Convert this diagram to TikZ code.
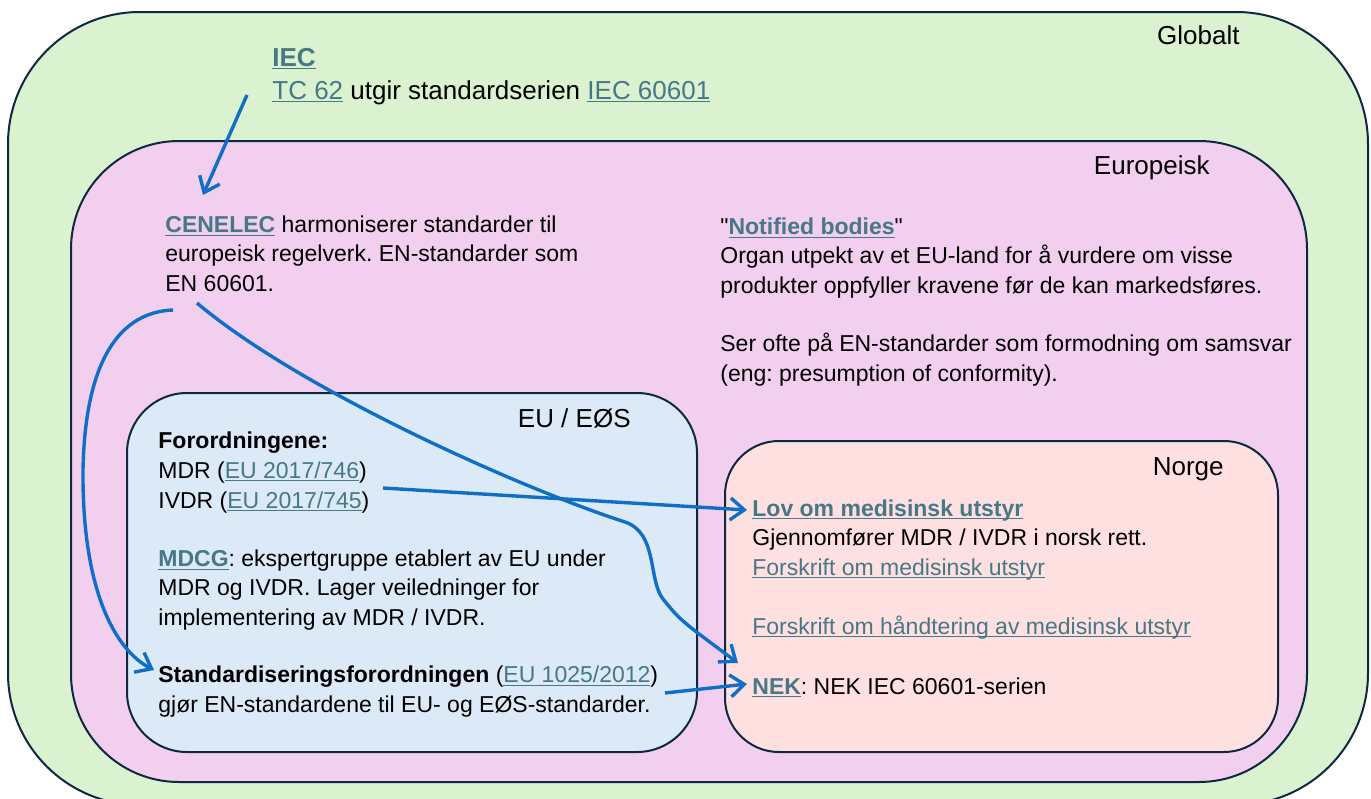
\documentclass[tikz,border=0pt]{standalone}
\usepackage{fontspec}
\setmainfont{Liberation Sans}
\frenchspacing
\usetikzlibrary{calc, arrows.meta}
\definecolor{globalgreen}{HTML}{DAF2D0}
\definecolor{europink}{HTML}{F2CFEE}
\definecolor{eublue}{HTML}{DCE9F6}
\definecolor{norgerose}{HTML}{FFE0E0}
\definecolor{framenavy}{HTML}{0E2841}
\definecolor{arrowblue}{HTML}{0F6FC6}
\definecolor{linkteal}{HTML}{467886}
\newcommand{\undl}[1]{\setbox0\hbox{#1}\rlap{\rule[-1.6pt]{\wd0}{0.55pt}}\box0}
\newcommand{\lnk}[1]{{\color{linkteal}\undl{#1}}}
\newcommand{\blnk}[1]{{\color{linkteal}\undl{\textbf{#1}}}}
\newcommand{\dq}{\XeTeXglyph\XeTeXcharglyph"22\relax}
\tikzset{
	region/.style={draw=framenavy, line width=1pt, rounded corners=#1},
	body/.style={inner sep=0pt, anchor=base west, align=left,
		font=\fontsize{11.5}{14.65}\selectfont},
	bigbody/.style={inner sep=0pt, anchor=base west,
		font=\fontsize{13}{16}\selectfont},
	title/.style={inner sep=0pt, anchor=base east,
		font=\fontsize{13}{16}\selectfont},
	link/.style={draw=arrowblue, line width=1.7pt,
		-{Straight Barb[length=7pt,width=11pt]}}
}

\begin{document}
\begin{tikzpicture}[x=0.5pt, y=-0.5pt]
\useasboundingbox (0,0) rectangle (1371,798);
\clip (0,0) rectangle (1371,798);
% regions
\draw[region=66pt, fill=globalgreen] (8,12) rectangle (1368,805);
\draw[region=54pt, fill=europink] (71,141) rectangle (1307,782);
\draw[region=30pt, fill=eublue] (127,393) rectangle (697,752);
\draw[region=27pt, fill=norgerose] (725,441) rectangle (1278,752);
% region titles
\node[title] (globalt) at (1240,44) {Globalt};
\node[title] (europeisk) at (1210,174) {Europeisk};
\node[title] (eueos) at (631,427) {EU / EØS};
\node[title] (norge) at (1224,475) {Norge};
% global (multi-line nodes sit on their last baseline)
\node[bigbody] (iec) at (272,66) {\blnk{IEC}};
\node[bigbody] (tc) at (272,99) {\lnk{TC 62} utgir standardserien \lnk{IEC 60601}};
% europe
\node[body] (cen) at (165,291) {\blnk{CENELEC} harmoniserer standarder til\\europeisk regelverk. EN-standarder som\\EN 60601.};
\node[body] (nb) at (720,293) {\dq\blnk{Notified bodies}\dq\\Organ utpekt av et EU-land for å vurdere om visse\\produkter oppfyller kravene før de kan markedsføres.};
\node[body] (nbsamsvar) at (720,381) {Ser ofte på EN-standarder som formodning om samsvar\\(eng: presumption of conformity).};
% EU / EOS
\node[body] (forord) at (158,478) {\textbf{Forordningene:}\\MDR (\lnk{EU 2017/746})};
\node[body] (ivdr) at (158,508) {IVDR (\lnk{EU 2017/745})};
\node[body] (mdcg) at (158,625) {\blnk{MDCG}: ekspertgruppe etablert av EU under\\MDR og IVDR. Lager veiledninger for\\implementering av MDR / IVDR.};
\node[body] (stdf) at (158,712) {\textbf{Standardiseringsforordningen} (\lnk{EU 1025/2012})\\gjør EN-standardene til EU- og EØS-standarder.};
% Norge
\node[body] (lov) at (752,516) {\blnk{Lov om medisinsk utstyr}};
\node[body] (gjen) at (752,575) {Gjennomfører MDR / IVDR i norsk rett.\\\lnk{Forskrift om medisinsk utstyr}};
\node[body] (fhand) at (752,634) {\lnk{Forskrift om håndtering av medisinsk utstyr}};
\node[body] (nek) at (752,694) {\blnk{NEK}: NEK IEC 60601-serien};
% arrows
\draw[link] ($(tc.base west)+(-25,-4)$) -- ($(cen.base west)+(38,-96)$);
\draw[link] ($(cen.base west)+(8,19)$) .. controls (120,312) and (85,360) .. (83,470)
	.. controls (82,590) and (115,650) .. ($(stdf.base west)+(-4,-42)$);
\draw[link] ($(cen.base west)+(32,12)$) .. controls (300,390) and (520,488) .. (625,522)
	.. controls (658,533) and (648,580) .. (663,599)
	.. controls (680,620) .. ($(nek.base west)+(-14,-31)$);
\draw[link] ($(ivdr.base west)+(225,-20)$) -- ($(lov.base west)+(-5,-6)$);
\draw[link] ($(stdf.base west)+(507,-19)$) -- ($(nek.base west)+(-5,-10)$);
\end{tikzpicture}
\end{document}
